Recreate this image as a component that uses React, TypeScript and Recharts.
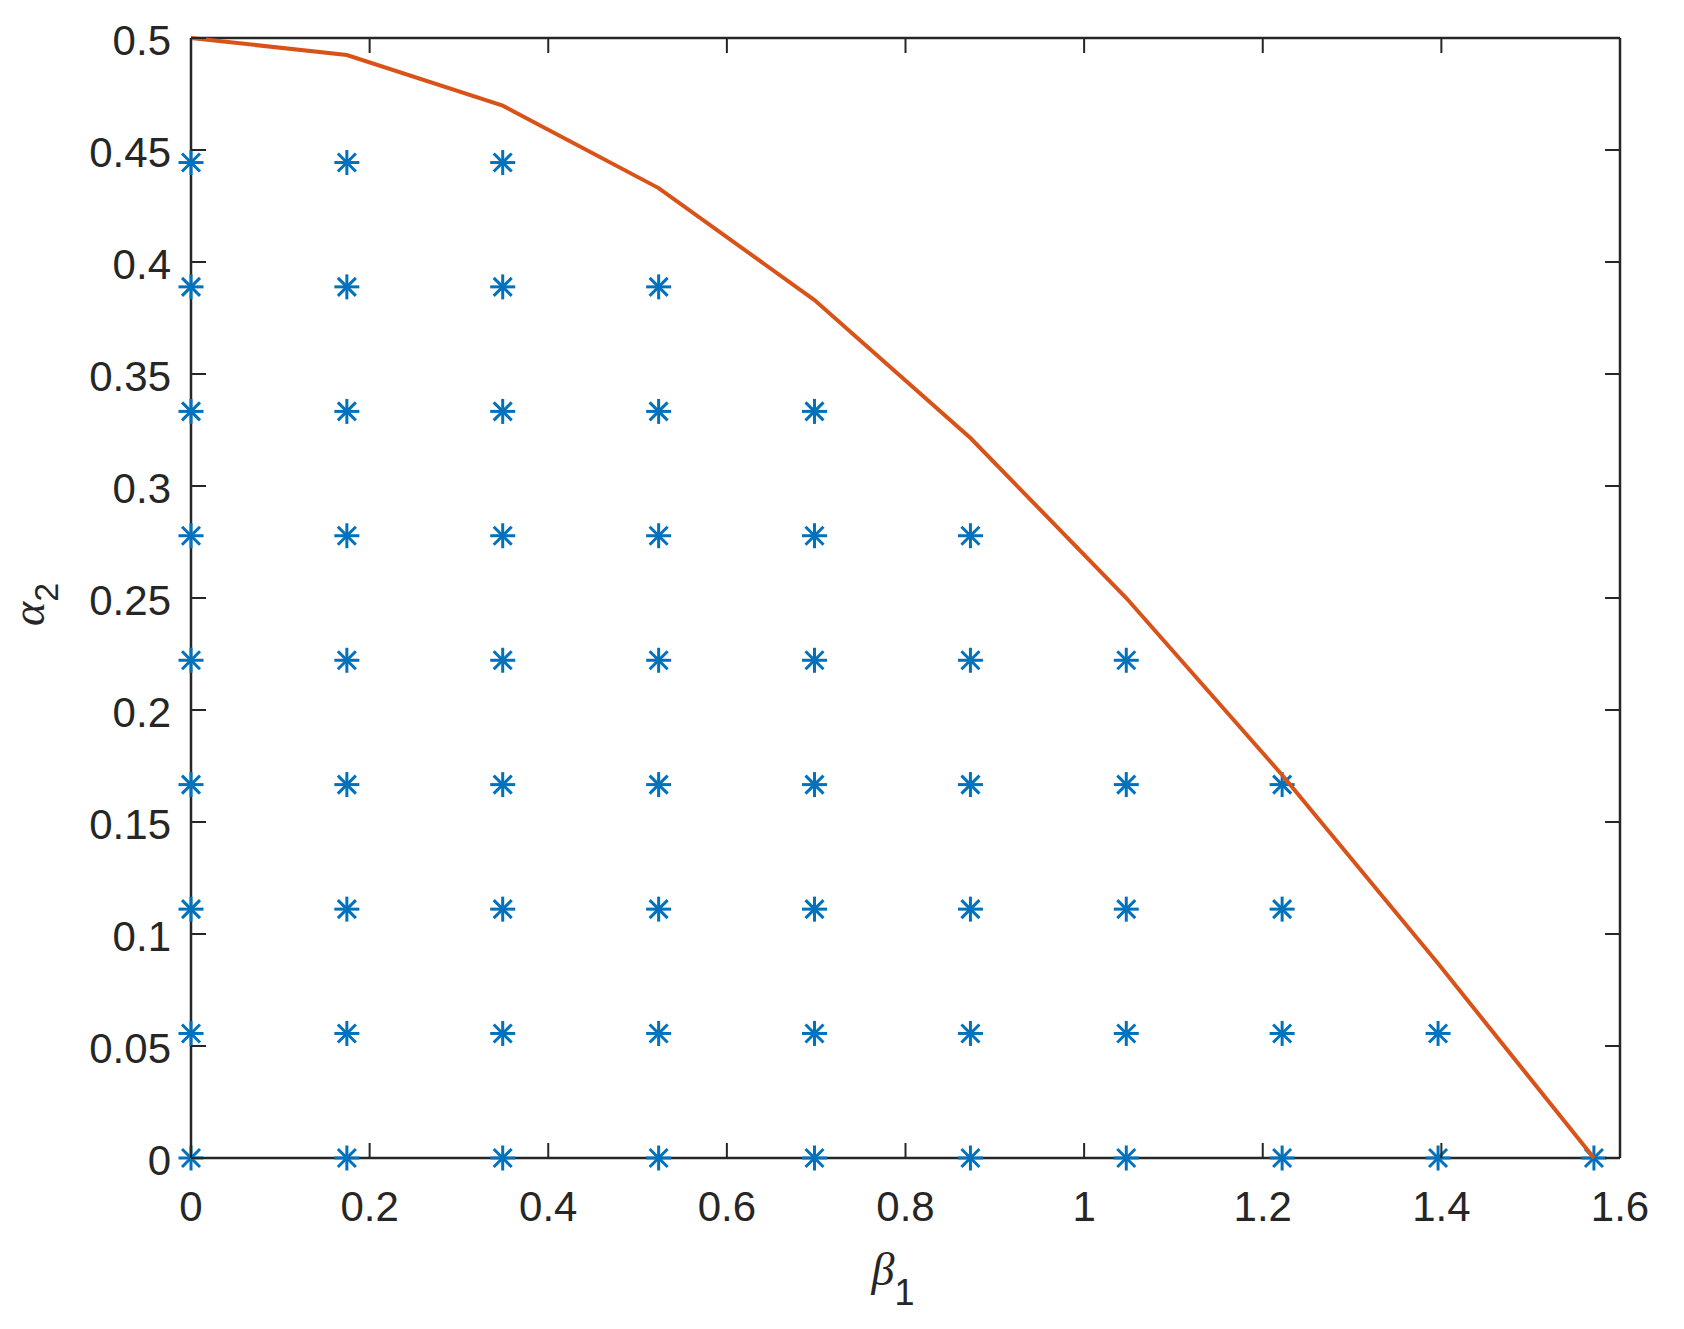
import { ScatterChart, Scatter, XAxis, YAxis } from "recharts";

// Stability region: grid of sampled (beta1, alpha2) points under the boundary curve.

const betaGrid = [0, 0.1745, 0.349, 0.5236, 0.6981, 0.8727, 1.0472, 1.2217, 1.3963, 1.5708];
const alphaGrid = [0, 0.0556, 0.1111, 0.1667, 0.2222, 0.2778, 0.3333, 0.3889, 0.4444];
// how many grid rows are marked in each beta column
const pointsPerColumn = [9, 9, 9, 8, 7, 6, 5, 4, 2, 1];

const boundaryBeta = [0, 0.1745, 0.349, 0.5236, 0.6981, 0.8727, 1.0472, 1.2217, 1.3963, 1.5708];
const boundaryAlpha = [0.5, 0.4924, 0.4698, 0.433, 0.383, 0.3214, 0.25, 0.171, 0.0868, 0];

const xTicks = [0, 0.2, 0.4, 0.6, 0.8, 1, 1.2, 1.4, 1.6];
const yTicks = [0, 0.05, 0.1, 0.15, 0.2, 0.25, 0.3, 0.35, 0.4, 0.45, 0.5];

const points: { x: number; y: number }[] = [];
betaGrid.forEach((b, i) => {
  for (let j = 0; j < pointsPerColumn[i]; j++) points.push({ x: b, y: alphaGrid[j] });
});
const boundary = boundaryBeta.map((b, i) => ({ x: b, y: boundaryAlpha[i] }));

const INK = "#262626";
const BLUE = "#0072BD";
const ORANGE = "#D95319";
const TICK = 15;
const FONT = "'Liberation Sans', Arial, sans-serif";

const Star = (props: any) => {
  const { cx, cy } = props;
  const r = 12.5;
  const d = r * 0.72;
  return (
    <g stroke={BLUE} strokeWidth={3}>
      <line x1={cx - r} y1={cy} x2={cx + r} y2={cy} />
      <line x1={cx} y1={cy - r} x2={cx} y2={cy + r} />
      <line x1={cx - d} y1={cy - d} x2={cx + d} y2={cy + d} />
      <line x1={cx - d} y1={cy + d} x2={cx + d} y2={cy - d} />
    </g>
  );
};

const NoShape = () => <g />;

const BottomTick = ({ x, y, payload }: any) => (
  <g>
    <line x1={x} y1={y} x2={x} y2={y - TICK} stroke={INK} strokeWidth={2} />
    <text x={x} y={y + 63} textAnchor="middle" fontSize={42} fontFamily={FONT} fill={INK}>
      {String(payload.value)}
    </text>
  </g>
);

const TopTick = ({ x, y }: any) => (
  <line x1={x} y1={y} x2={x} y2={y + TICK} stroke={INK} strokeWidth={2} />
);

const LeftTick = ({ x, y, payload }: any) => (
  <g>
    <line x1={x} y1={y} x2={x + TICK} y2={y} stroke={INK} strokeWidth={2} />
    <text x={x - 20} y={y + 17} textAnchor="end" fontSize={42} fontFamily={FONT} fill={INK}>
      {String(payload.value)}
    </text>
  </g>
);

const RightTick = ({ x, y }: any) => (
  <line x1={x} y1={y} x2={x - TICK} y2={y} stroke={INK} strokeWidth={2} />
);

export default function App() {
  return (
    <div style={{ position: "absolute", left: 0, top: 0, width: 1684, height: 1329, background: "#fff" }}>
      <ScatterChart width={1684} height={1329} margin={{ top: 0, right: 0, bottom: 0, left: 0 }}>
        <XAxis
          xAxisId="b"
          dataKey="x"
          type="number"
          domain={[0, 1.6]}
          ticks={xTicks}
          orientation="bottom"
          height={171}
          tickSize={0}
          tickMargin={0}
          tickLine={false}
          tick={<BottomTick />}
          axisLine={{ stroke: INK, strokeWidth: 2.5 }}
          interval={0}
        />
        <XAxis
          xAxisId="t"
          dataKey="x"
          type="number"
          domain={[0, 1.6]}
          ticks={xTicks}
          orientation="top"
          height={38}
          tickSize={0}
          tickMargin={0}
          tickLine={false}
          tick={<TopTick />}
          axisLine={{ stroke: INK, strokeWidth: 2.5 }}
          interval={0}
        />
        <YAxis
          yAxisId="l"
          dataKey="y"
          type="number"
          domain={[0, 0.5]}
          ticks={yTicks}
          orientation="left"
          width={191}
          tickSize={0}
          tickMargin={0}
          tickLine={false}
          tick={<LeftTick />}
          axisLine={{ stroke: INK, strokeWidth: 2.5 }}
          interval={0}
        />
        <YAxis
          yAxisId="r"
          dataKey="y"
          type="number"
          domain={[0, 0.5]}
          ticks={yTicks}
          orientation="right"
          width={64}
          tickSize={0}
          tickMargin={0}
          tickLine={false}
          tick={<RightTick />}
          axisLine={{ stroke: INK, strokeWidth: 2.5 }}
          interval={0}
        />
        {/* invisible series so the top/right mirror axes have data and draw their ticks */}
        <Scatter
          xAxisId="t"
          yAxisId="r"
          data={boundary}
          shape={<NoShape />}
          isAnimationActive={false}
        />
        <Scatter
          xAxisId="b"
          yAxisId="l"
          data={points}
          shape={<Star />}
          isAnimationActive={false}
        />
        <Scatter
          xAxisId="b"
          yAxisId="l"
          data={boundary}
          line={{ stroke: ORANGE, strokeWidth: 4 }}
          shape={<NoShape />}
          isAnimationActive={false}
        />
        <text x={893} y={1285} textAnchor="middle" fill={INK}>
          <tspan fontFamily="'Liberation Serif', serif" fontStyle="italic" fontSize={46}>β</tspan>
          <tspan fontFamily={FONT} fontSize={36} dy={20}>1</tspan>
        </text>
        <text transform="translate(44,626) rotate(-90)" x={0} y={0} fill={INK}>
          <tspan fontFamily="'Liberation Serif', serif" fontStyle="italic" fontSize={46}>α</tspan>
          <tspan fontFamily={FONT} fontSize={34} dy={14}>2</tspan>
        </text>
      </ScatterChart>
    </div>
  );
}
